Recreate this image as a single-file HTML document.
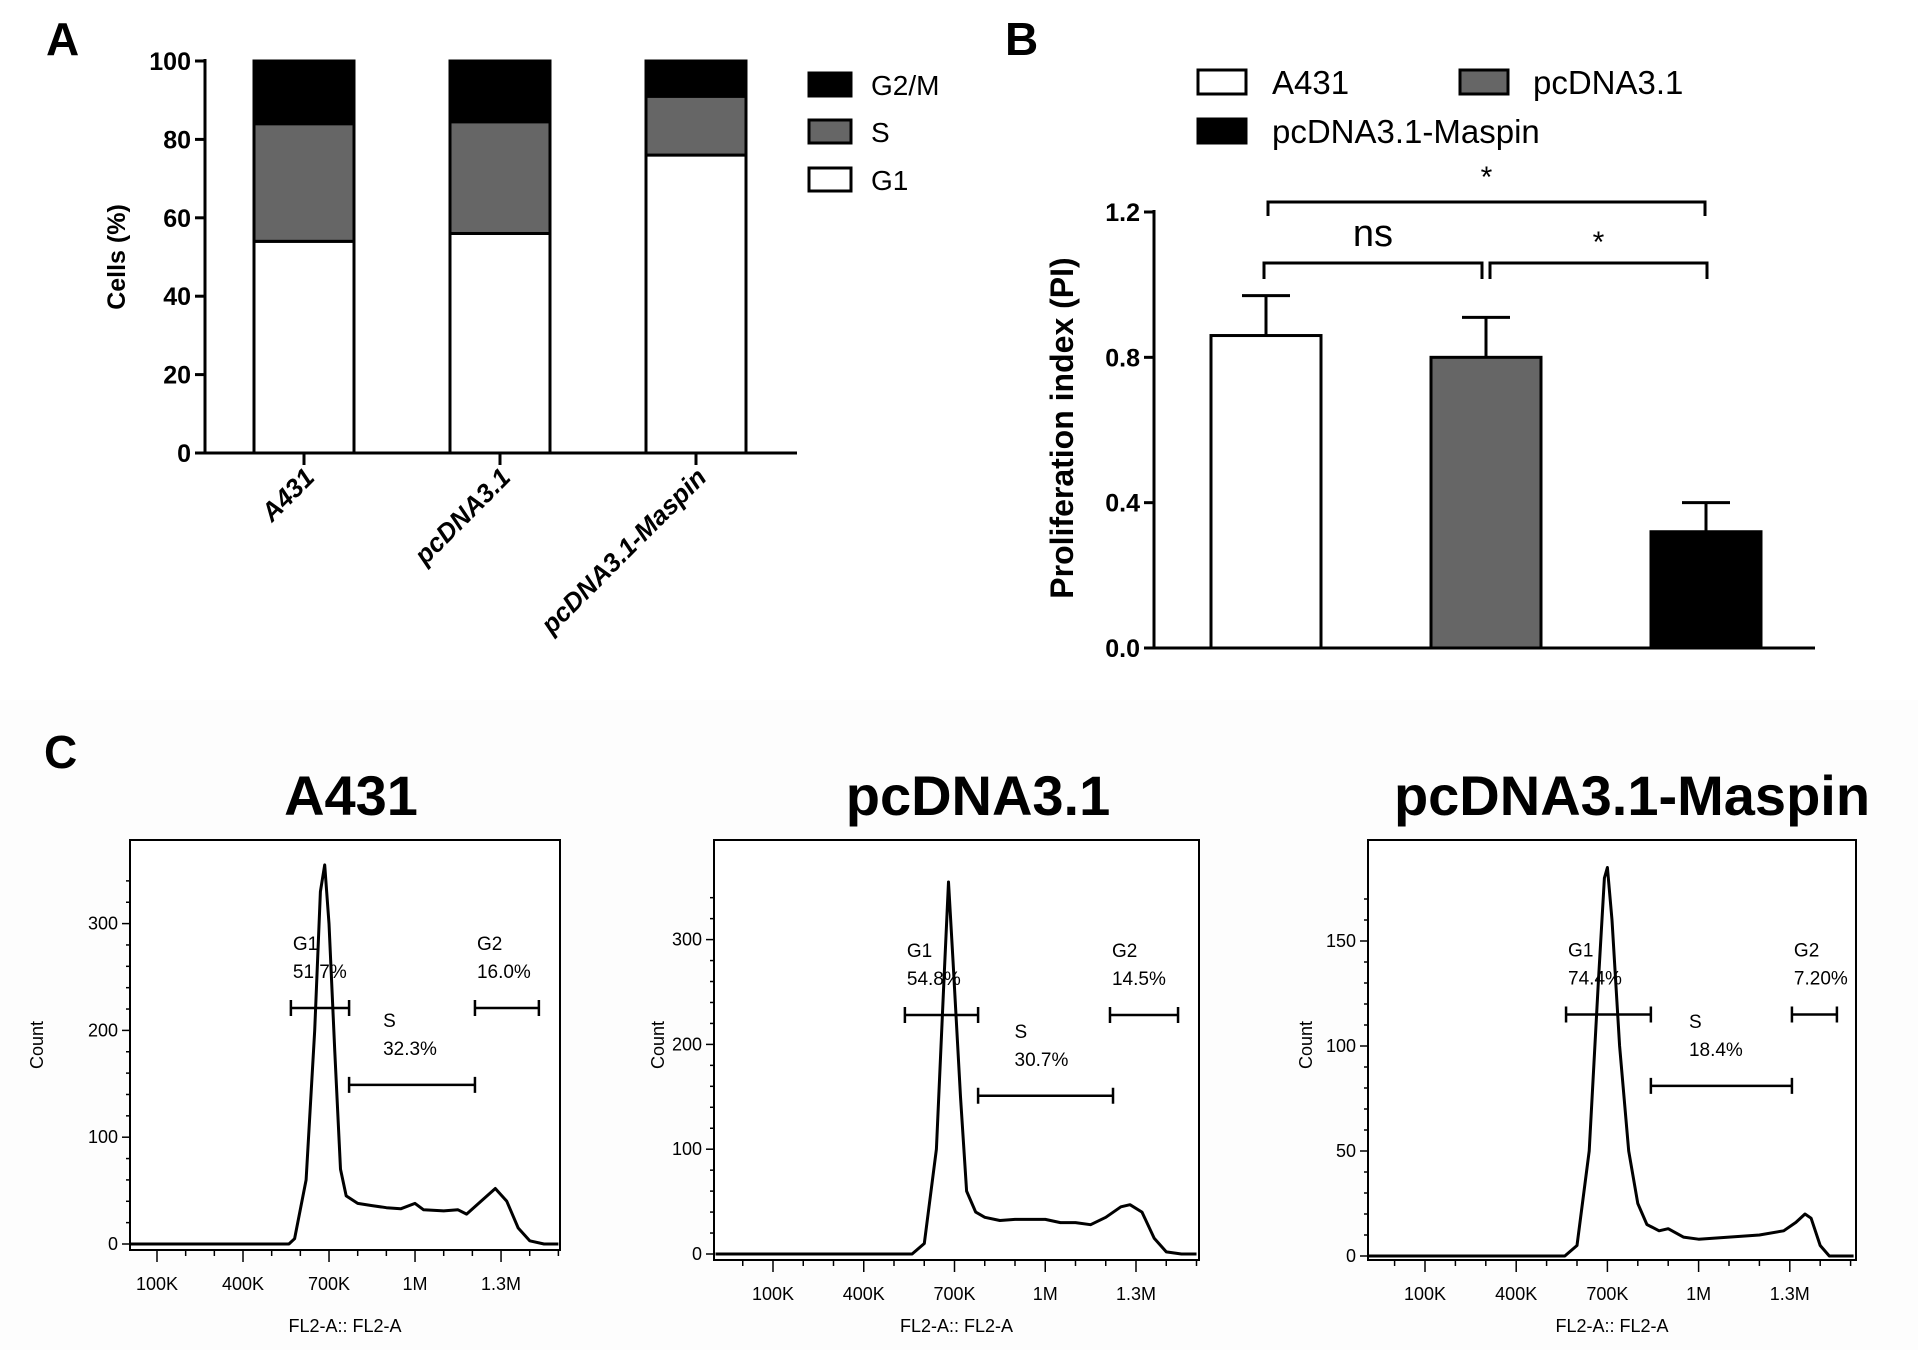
<!DOCTYPE html>
<html><head><meta charset="utf-8"><style>
html,body{margin:0;padding:0;background:#fff;}
svg{display:block;font-family:"Liberation Sans",Arial,sans-serif;}
</style></head><body>
<svg id="fig" width="1918" height="1350" viewBox="0 0 1918 1350" xmlns="http://www.w3.org/2000/svg">
<rect x="0" y="700" width="1918" height="650" fill="#fdfdfd"/>
<g id="gA"></g>
<g id="gB"></g>
<g id="gC"></g>
</svg>
<script>
// ---------- Panel A data ----------
const aCats = ["A431","pcDNA3.1","pcDNA3.1-Maspin"];
const aG1 = [54, 56, 76];
const aS = [30, 28.5, 15];
const aG2M = [16, 15.5, 9];
const aTicks = [0,20,40,60,80,100];
// ---------- Panel B data ----------
const bCats = ["A431","pcDNA3.1","pcDNA3.1-Maspin"];
const bVals = [0.86, 0.80, 0.32];
const bErr = [0.11, 0.11, 0.08];
const bTicks = [0.0, 0.4, 0.8, 1.2];
const bTickLabels = ["0.0","0.4","0.8","1.2"];
// ---------- Panel C data ----------
const cTitles = ["A431","pcDNA3.1","pcDNA3.1-Maspin"];
const h1X = [0,560,580,620,650,670,685,700,720,740,760,800,850,900,950,1000,1030,1100,1150,1180,1230,1280,1320,1360,1400,1450,1500];
const h1Y = [0,0,5,60,200,330,355,300,180,70,45,38,36,34,33,38,32,31,32,28,40,52,40,15,3,0,0];
const h2X = [-90,560,600,640,665,680,695,720,740,770,800,850,900,1000,1050,1100,1150,1200,1250,1280,1320,1360,1400,1450,1500];
const h2Y = [0,0,10,100,260,355,280,150,60,40,35,32,33,33,30,30,28,35,45,47,40,15,2,0,0];
const h3X = [-85,560,600,640,670,690,700,715,740,770,800,830,870,900,950,1000,1100,1200,1280,1320,1350,1370,1400,1430,1510];
const h3Y = [0,0,5,50,130,180,185,160,100,50,25,15,12,13,9,8,9,10,12,16,20,18,5,0,0];
const gateNames = ["G1","S","G2"];
const h1Pct = ["51.7%","32.3%","16.0%"];
const h2Pct = ["54.8%","30.7%","14.5%"];
const h3Pct = ["74.4%","18.4%","7.20%"];
const h1Gates = [[567,770,221],[770,1209,149],[1209,1432,221]];
const h2Gates = [[536,778,228],[778,1224,151],[1214,1439,228]];
const h3Gates = [[564,843,115],[843,1307,81],[1307,1455,115]];
const xTickVals = [100,400,700,1000,1300];
const xTickLabels = ["100K","400K","700K","1M","1.3M"];
const h1YTicks = [0,100,200,300];
const h2YTicks = [0,100,200,300];
const h3YTicks = [0,50,100,150];

const NS="http://www.w3.org/2000/svg";
function el(tag, attrs, parent, txt){
  const e=document.createElementNS(NS,tag);
  for(const k in attrs) e.setAttribute(k,attrs[k]);
  if(txt!==undefined) e.textContent=txt;
  parent.appendChild(e); return e;
}

// ---------- Panel A ----------
(function(){
  const g=document.getElementById('gA');
  const x0=205, x1=797, y0=453, yTop=61;
  const yA=v=>y0-(v/100)*(y0-yTop);
  const centers=[304,500,696], bw=100;
  let t=el('text',{x:46,y:55,'font-size':46,'font-weight':'bold'},g,'A');
   
  aCats.forEach((c,i)=>{
    const segs=[[0,aG1[i],'#fff','g1'],[aG1[i],aG1[i]+aS[i],'#666','s'],[aG1[i]+aS[i],aG1[i]+aS[i]+aG2M[i],'#000','g2m']];
    segs.forEach(s=>{
      const r=el('rect',{x:centers[i]-bw/2,y:yA(s[1]),width:bw,height:yA(s[0])-yA(s[1]),fill:s[2],stroke:'#000','stroke-width':3},g);
      
      
    });
    el('line',{x1:centers[i],x2:centers[i],y1:y0,y2:y0+12,stroke:'#000','stroke-width':3},g);
    const lb=el('text',{x:0,y:0,'font-size':26,'font-weight':'bold','font-style':'italic','text-anchor':'end',transform:`translate(${centers[i]+12},${y0+26}) rotate(-45)`},g,c);
    
    
  });
  el('line',{x1:x0,x2:x0,y1:yTop-2,y2:y0+1,stroke:'#000','stroke-width':3},g);
  el('line',{x1:x0-1,x2:x1,y1:y0,y2:y0,stroke:'#000','stroke-width':3},g);
  aTicks.forEach(v=>{
    el('line',{x1:x0-10,x2:x0,y1:yA(v),y2:yA(v),stroke:'#000','stroke-width':3},g);
    const tl=el('text',{x:x0-14,y:yA(v)+9,'font-size':25,'font-weight':'bold','text-anchor':'end'},g,String(v));
     
  });
  const yt=el('text',{x:0,y:0,'font-size':25,'font-weight':'bold','text-anchor':'middle',transform:'translate(125,257) rotate(-90)'},g,'Cells (%)');
   
  const leg=[['G2/M','#000',73],['S','#666',120],['G1','#fff',168]];
  leg.forEach(l=>{
    const r=el('rect',{x:809,y:l[2],width:42,height:23,fill:l[1],stroke:'#000','stroke-width':3},g);
    
    
    const tx=el('text',{x:871,y:l[2]+22,'font-size':28},g,l[0]);
     
  });
})();

// ---------- Panel B ----------
(function(){
  const g=document.getElementById('gB');
  const x0=1154, x1=1815, y0=648, yTop=212;
  const yB=v=>y0-(v/1.2)*(y0-yTop);
  const centers=[1266,1486,1706], bw=110, fills=['#fff','#666','#000'];
  let t=el('text',{x:1005,y:55,'font-size':46,'font-weight':'bold'},g,'B');
   
  bCats.forEach((c,i)=>{
    const et=yB(bVals[i]+bErr[i]);
    const el1=el('line',{x1:centers[i],x2:centers[i],y1:yB(bVals[i]),y2:et,stroke:'#000','stroke-width':3},g);
     
    el('line',{x1:centers[i]-24,x2:centers[i]+24,y1:et,y2:et,stroke:'#000','stroke-width':3},g);
    const r=el('rect',{x:centers[i]-bw/2,y:yB(bVals[i]),width:bw,height:y0-yB(bVals[i]),fill:fills[i],stroke:'#000','stroke-width':3},g);
    
    
  });
  el('line',{x1:x0,x2:x0,y1:yTop-2,y2:y0+1,stroke:'#000','stroke-width':3},g);
  el('line',{x1:x0-1,x2:x1,y1:y0,y2:y0,stroke:'#000','stroke-width':3},g);
  bTicks.forEach((v,i)=>{
    el('line',{x1:x0-10,x2:x0,y1:yB(v),y2:yB(v),stroke:'#000','stroke-width':3},g);
    const tl=el('text',{x:x0-14,y:yB(v)+9,'font-size':25,'font-weight':'bold','text-anchor':'end'},g,bTickLabels[i]);
     
  });
  const yt=el('text',{x:0,y:0,'font-size':32,'font-weight':'bold','text-anchor':'middle',transform:'translate(1073,428) rotate(-90)'},g,'Proliferation index (PI)');
   
  const br=[[1268,1705,202,216,'*',187],[1264,1482,263,279,'ns',246],[1490,1707,263,279,'*',252]];
  br.forEach(b=>{
    const p=el('path',{d:`M${b[0]},${b[3]} V${b[2]} H${b[1]} V${b[3]}`,fill:'none',stroke:'#000','stroke-width':3},g);
     
    const tx=el('text',{x:(b[0]+b[1])/2,y:b[5],'font-size':b[4]==='ns'?38:30,'text-anchor':'middle'},g,b[4]);
     
  });
  const leg=[['A431','#fff',1198,70,1272],['pcDNA3.1','#666',1460,70,1533],['pcDNA3.1-Maspin','#000',1198,119,1272]];
  leg.forEach(l=>{
    const r=el('rect',{x:l[2],y:l[3],width:48,height:24,fill:l[1],stroke:'#000','stroke-width':3},g);
     
    const tx=el('text',{x:l[4],y:l[3]+24,'font-size':33},g,l[0]);
     
  });
})();

// ---------- Panel C ----------
(function(){
  const g=document.getElementById('gC');
  let t=el('text',{x:44,y:768,'font-size':46,'font-weight':'bold'},g,'C');
   
  const cfg=[
    {bx:130,by:840,bw:430,bh:410,zero:1244,ppc:1.068,k100:157,ppk:0.2867,X:h1X,Y:h1Y,gates:h1Gates,pct:h1Pct,yt:h1YTicks,minor:20,cx:37,title:351},
    {bx:714,by:840,bw:485,bh:420,zero:1254,ppc:1.048,k100:773,ppk:0.3025,X:h2X,Y:h2Y,gates:h2Gates,pct:h2Pct,yt:h2YTicks,minor:20,cx:658,title:978},
    {bx:1368,by:840,bw:488,bh:420,zero:1256,ppc:2.1,k100:1425,ppk:0.304,X:h3X,Y:h3Y,gates:h3Gates,pct:h3Pct,yt:h3YTicks,minor:10,cx:1306,title:1632}
  ];
  cfg.forEach((c,i)=>{
    const sx=k=>c.k100+(k-100)*c.ppk, sy=v=>c.zero-v*c.ppc;
    const tt=el('text',{x:c.title,y:815,'font-size':56,'font-weight':'bold','text-anchor':'middle'},g,cTitles[i]);
     
    const box=el('rect',{x:c.bx,y:c.by,width:c.bw,height:c.bh,fill:'#fff',stroke:'#000','stroke-width':2},g);
     
    let d='';
    c.X.forEach((k,j)=>{ const px=Math.max(c.bx,Math.min(c.bx+c.bw,sx(k))); d+=(j?'L':'M')+px.toFixed(1)+','+sy(c.Y[j]).toFixed(1); });
    const ln=el('path',{d:d,fill:'none',stroke:'#000','stroke-width':3,'stroke-linejoin':'round'},g);
     
    const maxY=c.yt[c.yt.length-1]+c.minor*2;
    for(let v=0; v<=maxY; v+=c.minor){
      if(sy(v)<c.by+5) break;
      const major=c.yt.indexOf(v)>=0;
      el('line',{x1:c.bx-(major?8:4),x2:c.bx,y1:sy(v),y2:sy(v),stroke:'#000','stroke-width':1.5},g);
    }
    c.yt.forEach(v=>{
      const tl=el('text',{x:c.bx-12,y:sy(v)+6,'font-size':18,'text-anchor':'end'},g,String(v));
       
    });
    for(let k=0;k<=1500;k+=100){
      const px=sx(k); if(px<c.bx||px>c.bx+c.bw) continue;
      const major=xTickVals.indexOf(k)>=0;
      el('line',{x1:px,x2:px,y1:c.by+c.bh,y2:c.by+c.bh+(major?12:6),stroke:'#000','stroke-width':1.5},g);
    }
    xTickVals.forEach((k,j)=>{
      const tl=el('text',{x:sx(k),y:c.by+c.bh+40,'font-size':18,'text-anchor':'middle'},g,xTickLabels[j]);
       
    });
    const xt=el('text',{x:c.bx+c.bw/2,y:1332,'font-size':18,'text-anchor':'middle'},g,'FL2-A:: FL2-A');
     
    const yl=el('text',{x:0,y:0,'font-size':18,'text-anchor':'middle',transform:`translate(${c.cx+6},${c.by+205}) rotate(-90)`},g,'Count');
     
    c.gates.forEach((gt,j)=>{
      const x1=sx(gt[0]), x2=sx(gt[1]), y=sy(gt[2]);
      const p=el('path',{d:`M${x1},${y-8}V${y+8}M${x1},${y}H${x2}M${x2},${y-8}V${y+8}`,stroke:'#000','stroke-width':2.5,fill:'none'},g);
       
      const lx = j===1 ? x1+(x2-x1)*0.27 : x1+2;
      const ly = y-58;
      const a=el('text',{x:lx,y:ly,'font-size':19},g,gateNames[j]);
       
      const b=el('text',{x:lx,y:ly+28,'font-size':19},g,c.pct[j]);
       
    });
  });
})();
</script>
</body></html>
